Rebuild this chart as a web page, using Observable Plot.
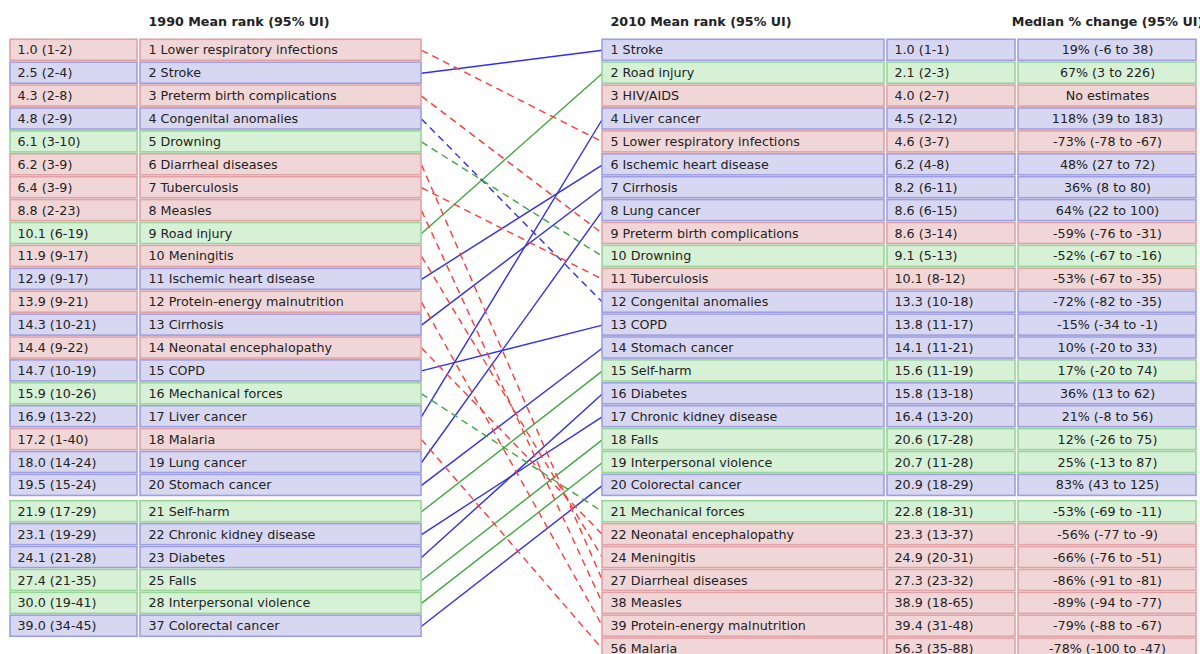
<!DOCTYPE html>
<html>
<head>
<meta charset="utf-8">
<script src="https://cdn.jsdelivr.net/npm/d3@7"></script>
<script src="https://cdn.jsdelivr.net/npm/@observablehq/plot@0.6"></script>
<style>
  html, body { margin: 0; padding: 0; background: #fff; }
  #chart svg { display: block; }
</style>
</head>
<body>
<div id="chart"></div>
<script>
// ---------- DATA ----------
const causes1990 = ["Lower respiratory infections", "Stroke", "Preterm birth complications", "Congenital anomalies", "Drowning", "Diarrheal diseases", "Tuberculosis", "Measles", "Road injury", "Meningitis", "Ischemic heart disease", "Protein-energy malnutrition", "Cirrhosis", "Neonatal encephalopathy", "COPD", "Mechanical forces", "Liver cancer", "Malaria", "Lung cancer", "Stomach cancer", "Self-harm", "Chronic kidney disease", "Diabetes", "Falls", "Interpersonal violence", "Colorectal cancer"];
const ranks1990 = [1, 2, 3, 4, 5, 6, 7, 8, 9, 10, 11, 12, 13, 14, 15, 16, 17, 18, 19, 20, 21, 22, 23, 25, 28, 37];
const meanRank1990 = [1.0, 2.5, 4.3, 4.8, 6.1, 6.2, 6.4, 8.8, 10.1, 11.9, 12.9, 13.9, 14.3, 14.4, 14.7, 15.9, 16.9, 17.2, 18.0, 19.5, 21.9, 23.1, 24.1, 27.4, 30.0, 39.0];
const ui1990 = ["1-2", "2-4", "2-8", "2-9", "3-10", "3-9", "3-9", "2-23", "6-19", "9-17", "9-17", "9-21", "10-21", "9-22", "10-19", "10-26", "13-22", "1-40", "14-24", "15-24", "17-29", "19-29", "21-28", "21-35", "19-41", "34-45"];

const causes2010 = ["Stroke", "Road injury", "HIV/AIDS", "Liver cancer", "Lower respiratory infections", "Ischemic heart disease", "Cirrhosis", "Lung cancer", "Preterm birth complications", "Drowning", "Tuberculosis", "Congenital anomalies", "COPD", "Stomach cancer", "Self-harm", "Diabetes", "Chronic kidney disease", "Falls", "Interpersonal violence", "Colorectal cancer", "Mechanical forces", "Neonatal encephalopathy", "Meningitis", "Diarrheal diseases", "Measles", "Protein-energy malnutrition", "Malaria"];
const ranks2010 = [1, 2, 3, 4, 5, 6, 7, 8, 9, 10, 11, 12, 13, 14, 15, 16, 17, 18, 19, 20, 21, 22, 24, 27, 38, 39, 56];
const meanRank2010 = [1.0, 2.1, 4.0, 4.5, 4.6, 6.2, 8.2, 8.6, 8.6, 9.1, 10.1, 13.3, 13.8, 14.1, 15.6, 15.8, 16.4, 20.6, 20.7, 20.9, 22.8, 23.3, 24.9, 27.3, 38.9, 39.4, 56.3];
const ui2010 = ["1-1", "2-3", "2-7", "2-12", "3-7", "4-8", "6-11", "6-15", "3-14", "5-13", "8-12", "10-18", "11-17", "11-21", "11-19", "13-18", "13-20", "17-28", "11-28", "18-29", "18-31", "13-37", "20-31", "23-32", "18-65", "31-48", "35-88"];
const medianChange = [19, 67, null, 118, -73, 48, 36, 64, -59, -52, -53, -72, -15, 10, 17, 36, 21, 12, 25, 83, -53, -56, -66, -86, -89, -79, -78];
const changeLow = [-6, 3, null, 39, -78, 27, 8, 22, -76, -67, -67, -82, -34, -20, -20, 13, -8, -26, -13, 43, -69, -77, -76, -91, -94, -88, -100];
const changeHigh = [38, 226, null, 183, -67, 72, 80, 100, -31, -16, -35, -35, -1, 33, 74, 62, 56, 75, 87, 125, -11, -9, -51, -81, -77, -67, -47];

const communicable = ["Lower respiratory infections", "Preterm birth complications", "Diarrheal diseases", "Tuberculosis", "Measles", "Meningitis", "Protein-energy malnutrition", "Neonatal encephalopathy", "Malaria", "HIV/AIDS"];
const injuries = ["Drowning", "Road injury", "Mechanical forces", "Self-harm", "Falls", "Interpersonal violence"];

const headers = ["1990 Mean rank (95% UI)", "2010 Mean rank (95% UI)", "Median % change (95% UI)"];

// ---------- STYLE / LAYOUT ----------
const W = 1200, H = 654;
const FONT = "DejaVu Sans, Verdana, sans-serif";
const TEXT = "#222";
const FS = 12.7;
const palette = {
  comm: {fill: "#f1d6d8", stroke: "#e0a2a6", line: "#ff3a3a"},
  ncd:  {fill: "#d7d7f1", stroke: "#9e9ee2", line: "#2f2fe8"},
  inj:  {fill: "#d7f1d7", stroke: "#98d698", line: "#3fa63f"}
};
const cols = {
  lVal:  [10, 137],
  lName: [140, 421],
  rName: [602, 884],
  rVal:  [887, 1015],
  chg:   [1018, 1196]
};
const rowTop = 49.8, rowStep = 22.9, half = 0.46;
const slot = (row) => row <= 20 ? row : row + 0.15;

const group = (c) => communicable.includes(c) ? "comm" : injuries.includes(c) ? "inj" : "ncd";

const left = causes1990.map((c, i) => ({
  cause: c, rank: ranks1990[i], row: i + 1, g: group(c),
  valLabel: `${meanRank1990[i].toFixed(1)} (${ui1990[i]})`,
  nameLabel: `${ranks1990[i]} ${c}`
}));
const right = causes2010.map((c, i) => ({
  cause: c, rank: ranks2010[i], row: i + 1, g: group(c),
  valLabel: `${meanRank2010[i].toFixed(1)} (${ui2010[i]})`,
  nameLabel: `${ranks2010[i]} ${c}`,
  chgLabel: medianChange[i] == null ? "No estimates" : `${medianChange[i]}% (${changeLow[i]} to ${changeHigh[i]})`
}));

const links = left.map(l => {
  const r = right.find(d => d.cause === l.cause);
  return r ? {cause: l.cause, g: l.g, from: l.row, to: r.row, up: r.rank <= l.rank} : null;
}).filter(Boolean);

const boxes = (data, col) => Plot.rect(data, {
  x1: () => cols[col][0], x2: () => cols[col][1],
  y1: d => slot(d.row) - half, y2: d => slot(d.row) + half,
  fill: d => palette[d.g].fill, stroke: d => palette[d.g].stroke, strokeWidth: 1.6
});

const labels = (data, xf, textKey, anchor) => Plot.text(data, {
  x: xf, y: d => slot(d.row), text: textKey, textAnchor: anchor,
  fill: TEXT, fontSize: FS, fontFamily: FONT
});

const linkMark = (data, dashed) => Plot.link(data, {
  x1: () => cols.lName[1], x2: () => cols.rName[0],
  y1: d => slot(d.from), y2: d => slot(d.to),
  stroke: d => palette[d.g].line, strokeWidth: 1.4,
  strokeDasharray: dashed ? "7,5" : null
});

const headerY = 1 - (rowTop - 21) / rowStep;
const header = (text, x, anchor) => Plot.text([text], {
  x: () => x, y: () => headerY, text: d => d, textAnchor: anchor,
  fill: TEXT, fontSize: FS, fontWeight: "bold", fontFamily: FONT
});

const plot = Plot.plot({
  width: W, height: H,
  marginTop: 0, marginRight: 0, marginBottom: 0, marginLeft: 0,
  x: {type: "linear", domain: [0, W], range: [0, W], axis: null},
  y: {type: "linear", domain: [1 - rowTop / rowStep, 1 + (H - rowTop) / rowStep], range: [0, H], axis: null},
  color: {type: "identity"},
  style: {fontFamily: FONT, background: "#fff"},
  marks: [
    linkMark(links.filter(d => d.up), false),
    linkMark(links.filter(d => !d.up), true),
    boxes(left, "lVal"),
    boxes(left, "lName"),
    boxes(right, "rName"),
    boxes(right, "rVal"),
    boxes(right, "chg"),
    labels(left, () => cols.lVal[0] + 7, "valLabel", "start"),
    labels(left, () => cols.lName[0] + 8, "nameLabel", "start"),
    labels(right, () => cols.rName[0] + 8, "nameLabel", "start"),
    labels(right, () => cols.rVal[0] + 7, "valLabel", "start"),
    labels(right, () => (cols.chg[0] + cols.chg[1]) / 2, "chgLabel", "middle"),
    header(headers[0], cols.lName[0] + 8, "start"),
    header(headers[1], cols.rName[0] + 8, "start"),
    header(headers[2], (cols.chg[0] + cols.chg[1]) / 2, "middle")
  ]
});
document.getElementById("chart").appendChild(plot);
</script>
</body>
</html>
